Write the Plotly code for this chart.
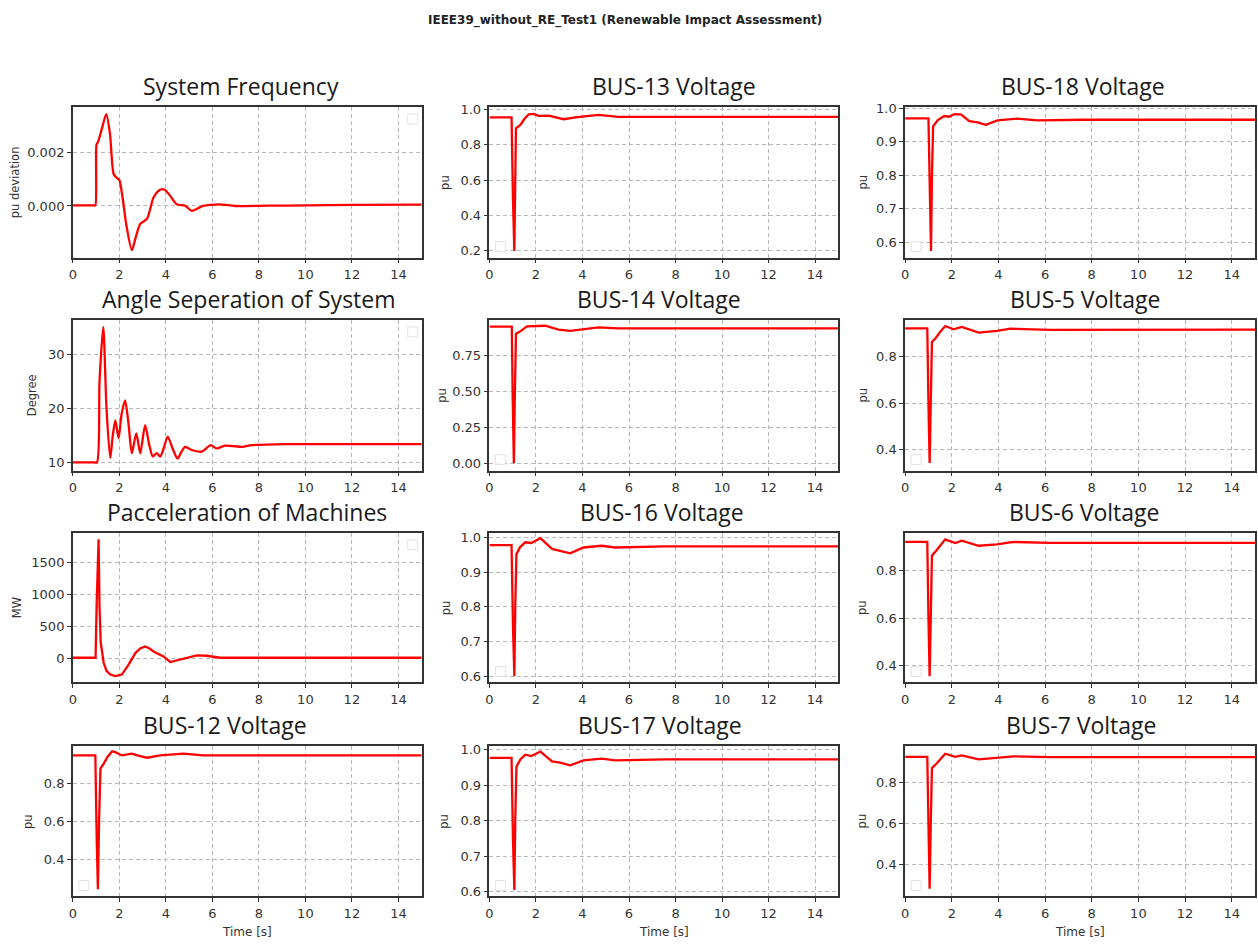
import plotly.graph_objects as go

# ---------------- data ----------------
freq_t = [0, 0.9, 0.97, 1.02, 1.09, 1.25, 1.44, 1.6, 1.76, 1.9, 2.0, 2.14, 2.3, 2.54, 2.7, 2.9, 3.19, 3.47,
          3.7, 3.87, 4.0, 4.19, 4.47, 4.83, 5.11, 5.6, 6.3, 7.0, 8.4, 10.0, 12.0, 15.0]
freq_v = [0.00002, 0.00002, 0.00002, 0.0023, 0.00242, 0.0029, 0.00345, 0.0027, 0.00119, 0.00105, 0.00098,
          0.00032, -0.0007, -0.00166, -0.0012, -0.00067, -0.00048, 0.00032, 0.00058, 0.00063, 0.00058,
          0.00038, 0.00006, 0.00001, -0.00018, 0.0, 0.00006, 0.0, 0.00001, 0.00002, 0.00004, 0.00005]

angle_t = [0, 0.9, 1.04, 1.15, 1.31, 1.45, 1.61, 1.72, 1.83, 1.97, 2.1, 2.25, 2.4, 2.54, 2.73, 2.9, 3.11, 3.3,
           3.44, 3.61, 3.76, 3.9, 4.08, 4.3, 4.5, 4.65, 4.83, 5.11, 5.54, 5.93, 6.18, 6.54, 7.33, 7.69,
           9.19, 11, 15]
angle_v = [10, 10, 10, 25, 35.1, 20, 10.8, 15, 17.8, 14.5, 19, 21.5, 17, 11.7, 15.4, 11.7, 16.9, 13, 11.1,
           11.7, 11.1, 12.5, 14.8, 12.5, 10.7, 11.8, 12.9, 12.3, 12.0, 13.2, 12.6, 13.1, 12.9, 13.2,
           13.4, 13.4, 13.4]

pacc_t = [0, 0.98, 1.03, 1.08, 1.11, 1.15, 1.2, 1.33, 1.45, 1.61, 1.83, 2.11, 2.25, 2.4, 2.69, 2.9, 3.11,
          3.3, 3.47, 3.7, 3.9, 4.19, 4.47, 4.9, 5.33, 5.76, 6.33, 8, 10, 12, 15]
pacc_v = [5, 5, 900, 1860, 1860, 800, 250, -78, -200, -259, -284, -259, -190, -103, 78, 150, 181,
          150, 103, 60, 26, -62, -36, 0, 41, 36, 5, 5, 5, 5, 5]

bus12_t = [0, 0.97, 1.03, 1.08, 1.13, 1.19, 1.33, 1.5, 1.69, 1.83, 2.11, 2.54, 2.85, 3.19, 3.76, 4.76, 5.6, 15]
bus12_v = [0.947, 0.947, 0.5, 0.246, 0.6, 0.878, 0.904, 0.94, 0.968, 0.964, 0.947, 0.956, 0.945, 0.935,
           0.947, 0.956, 0.947, 0.947]

bus13_t = [0, 0.95, 1.01, 1.07, 1.11, 1.14, 1.33, 1.5, 1.69, 1.9, 2.11, 2.54, 3.19, 3.69, 4.69, 5.54, 15]
bus13_v = [0.955, 0.955, 0.5, 0.198, 0.6, 0.893, 0.912, 0.945, 0.972, 0.974, 0.963, 0.964, 0.944, 0.955,
           0.968, 0.957, 0.957]

bus18_t = [0, 1.0, 1.06, 1.11, 1.15, 1.2, 1.4, 1.68, 1.89, 2.11, 2.39, 2.75, 3.1, 3.46, 3.96, 4.81, 5.67, 7.66, 15]
bus18_v = [0.970, 0.970, 0.75, 0.573, 0.8, 0.946, 0.965, 0.977, 0.975, 0.983, 0.982, 0.962, 0.958, 0.951,
           0.964, 0.969, 0.964, 0.966, 0.966]

bus14_t = [0, 0.96, 1.0, 1.05, 1.09, 1.14, 1.33, 1.61, 2.4, 2.97, 3.47, 4.26, 4.69, 5.54, 15]
bus14_v = [0.950, 0.950, 0.45, 0.0, 0.45, 0.901, 0.917, 0.952, 0.956, 0.929, 0.920, 0.938, 0.945, 0.938, 0.938]

bus5_t = [0, 0.95, 1.0, 1.05, 1.1, 1.15, 1.33, 1.5, 1.72, 2.08, 2.43, 3.15, 3.94, 4.51, 6.23, 15]
bus5_v = [0.920, 0.920, 0.6, 0.343, 0.6, 0.862, 0.881, 0.905, 0.930, 0.916, 0.926, 0.902, 0.909, 0.919,
          0.914, 0.915]

bus16_t = [0, 0.95, 1.01, 1.07, 1.11, 1.16, 1.33, 1.54, 1.8, 2.19, 2.69, 3.04, 3.47, 4.04, 4.83, 5.4, 7.54, 15]
bus16_v = [0.978, 0.978, 0.75, 0.600, 0.8, 0.952, 0.973, 0.986, 0.984, 0.998, 0.967, 0.962, 0.954, 0.971,
           0.976, 0.971, 0.974, 0.974]

bus6_t = [0, 0.95, 1.0, 1.05, 1.1, 1.15, 1.33, 1.5, 1.72, 2.15, 2.43, 3.15, 3.94, 4.65, 6.2, 15]
bus6_v = [0.921, 0.921, 0.6, 0.354, 0.6, 0.863, 0.884, 0.905, 0.932, 0.916, 0.926, 0.905, 0.911, 0.921,
          0.917, 0.917]

bus17_t = [0, 0.95, 1.01, 1.07, 1.11, 1.16, 1.33, 1.54, 1.8, 2.19, 2.69, 3.04, 3.47, 4.04, 4.83, 5.4, 7.54, 15]
bus17_v = [0.977, 0.977, 0.75, 0.604, 0.8, 0.952, 0.973, 0.986, 0.982, 0.995, 0.967, 0.964, 0.956, 0.970,
           0.975, 0.970, 0.973, 0.973]

bus7_t = [0, 0.95, 1.0, 1.05, 1.1, 1.15, 1.33, 1.5, 1.72, 2.15, 2.43, 3.15, 3.94, 4.65, 6.2, 15]
bus7_v = [0.925, 0.925, 0.6, 0.283, 0.6, 0.870, 0.890, 0.910, 0.940, 0.925, 0.932, 0.912, 0.918, 0.927,
          0.923, 0.923]

titles = ["System Frequency", "BUS-13 Voltage", "BUS-18 Voltage",
          "Angle Seperation of System", "BUS-14 Voltage", "BUS-5 Voltage",
          "Pacceleration of Machines", "BUS-16 Voltage", "BUS-6 Voltage",
          "BUS-12 Voltage", "BUS-17 Voltage", "BUS-7 Voltage"]
ylabels = ["pu deviation", "pu", "pu", "Degree", "pu", "pu", "MW", "pu", "pu", "pu", "pu", "pu"]
x_ticks = [0, 2, 4, 6, 8, 10, 12, 14]
suptitle = "IEEE39_without_RE_Test1 (Renewable Impact Assessment)"
xlabel = "Time [s]"

series = [(freq_t, freq_v), (bus13_t, bus13_v), (bus18_t, bus18_v),
          (angle_t, angle_v), (bus14_t, bus14_v), (bus5_t, bus5_v),
          (pacc_t, pacc_v), (bus16_t, bus16_v), (bus6_t, bus6_v),
          (bus12_t, bus12_v), (bus17_t, bus17_v), (bus7_t, bus7_v)]

# ---------------- layout / style ----------------
W, H = 1258, 944
col_px = [(69, 419), (487, 837), (904, 1255)]
row_px = [(102, 254), (317, 469), (532, 683), (747, 899)]
y_ranges = [[-0.00194, 0.00372], [0.161, 1.013], [0.5535, 1.004],
            [8.5, 36.4], [-0.050, 0.996], [0.311, 0.956],
            [-383, 1961], [0.582, 1.013], [0.328, 0.959],
            [0.208, 0.997], [0.586, 1.011], [0.246, 0.978]]
y_dtick = [0.002, 0.2, 0.1, 10, 0.25, 0.2, 500, 0.1, 0.2, 0.2, 0.1, 0.2]
y_fmt = [".3f", ".1f", ".1f", "d", ".2f", ".1f", "d", ".1f", ".1f", ".1f", ".1f", ".1f"]
title_cx = [238, 672, 1082, 246, 657, 1085, 244, 660, 1084, 222, 658, 1081]
ylab_cx = [11, 443, 862, 28, 440, 862, 12.5, 443, 860, 24, 442, 861]
smooth = [True, False, False, True, False, False, False, False, False, False, False, False]

RED = "#ff0000"
FRAME = "#333333"
GRID = "#b8b8b8"
TICKFONT = dict(family="DejaVu Sans", size=13, color="#333333")

fig = go.Figure()
annotations = []
shapes = []

for i, (t, v) in enumerate(series):
    r, c = divmod(i, 3)
    n = i + 1
    xs = "x" if n == 1 else f"x{n}"
    ys = "y" if n == 1 else f"y{n}"
    line = dict(color=RED, width=2.3)
    if smooth[i]:
        line.update(shape="spline", smoothing=0.7)
    fig.add_trace(go.Scatter(x=t, y=v, mode="lines", xaxis=xs, yaxis=ys, showlegend=False, line=line))
    x0, x1 = col_px[c]
    top, bot = row_px[r]
    common = dict(showline=True, mirror=True, linecolor=FRAME, linewidth=1.5,
                  ticks="outside", ticklen=4, tickcolor=FRAME, tickfont=TICKFONT,
                  showgrid=True, gridcolor=GRID, griddash="4px,3px", gridwidth=1, zeroline=False)
    xa = dict(domain=[x0 / W, x1 / W], range=[0, 15], anchor=ys, tickvals=x_ticks, **common)
    ya = dict(domain=[1 - bot / H, 1 - top / H], range=y_ranges[i], anchor=xs,
              dtick=y_dtick[i], tick0=0, tickformat=y_fmt[i], **common)
    fig.layout["xaxis" if n == 1 else f"xaxis{n}"] = xa
    fig.layout["yaxis" if n == 1 else f"yaxis{n}"] = ya

    # panel title
    annotations.append(dict(text=titles[i], x=title_cx[i] / W, y=1 - (top - 21) / H,
                            xref="paper", yref="paper", xanchor="center", yanchor="middle",
                            showarrow=False, font=dict(family="Open Sans", size=23, color="#1a1a1a")))
    # y label
    annotations.append(dict(text=ylabels[i], x=ylab_cx[i] / W, y=1 - ((top + bot) / 2) / H,
                            xref="paper", yref="paper", xanchor="center", yanchor="middle",
                            textangle=-90, showarrow=False,
                            font=dict(family="DejaVu Sans", size=11.5, color="#333333")))
    # x label on bottom row
    if r == 3:
        annotations.append(dict(text=xlabel, x=((x0 + x1) / 2) / W, y=1 - 935 / H,
                                xref="paper", yref="paper", xanchor="center", yanchor="middle",
                                showarrow=False,
                                font=dict(family="DejaVu Sans", size=12, color="#333333")))
    # empty legend box
    if c == 0 and r < 3:
        bx0, bx1 = x1 - 14, x1 - 4
        by0, by1 = top + 7, top + 17
    else:
        bx0, bx1 = x0 + 6, x0 + 16
        by0, by1 = bot - 16, bot - 6
    shapes.append(dict(type="rect", xref="paper", yref="paper",
                       x0=bx0 / W, x1=bx1 / W, y0=1 - by1 / H, y1=1 - by0 / H,
                       line=dict(color="#e2e2e2", width=1), fillcolor="rgba(255,255,255,0.8)"))

annotations.append(dict(text="<b>" + suptitle + "</b>", x=623 / W, y=1 - 15 / H, xref="paper", yref="paper",
                        xanchor="center", yanchor="middle", showarrow=False,
                        font=dict(family="DejaVu Sans", size=12, color="#222222")))

fig.update_layout(width=W, height=H, autosize=False,
                  margin=dict(l=0, r=0, t=0, b=0),
                  paper_bgcolor="white", plot_bgcolor="white",
                  annotations=annotations, shapes=shapes, showlegend=False)

fig.write_html("out.html",
               config={"displayModeBar": False},
               post_script="document.body.style.margin='0';document.body.style.padding='0';"
                           "document.documentElement.style.overflow='hidden';"
                           "document.body.style.overflow='hidden';")
